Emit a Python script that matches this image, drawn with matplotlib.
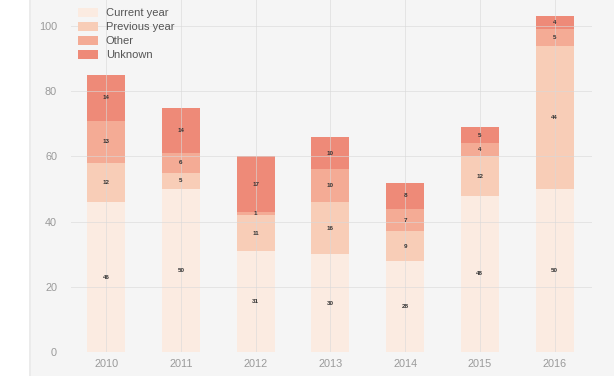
import matplotlib
matplotlib.use("Agg")
import matplotlib.pyplot as plt
from matplotlib.patches import Rectangle
import numpy as np

years = ["2010", "2011", "2012", "2013", "2014", "2015", "2016"]
current_year = [46, 50, 31, 30, 28, 48, 50]
previous_year = [12, 5, 11, 16, 9, 12, 44]
other = [13, 6, 1, 10, 7, 4, 5]
unknown = [14, 14, 17, 10, 8, 5, 4]
series_names = ["Current year", "Previous year", "Other", "Unknown"]
colors = ["#fbebe1", "#f8cdb7", "#f4ab95", "#ee8a78"]

plt.rcParams['font.family'] = ['Liberation Sans', 'DejaVu Sans']

W, H = 614, 376
fig = plt.figure(figsize=(W / 100, H / 100), dpi=100)
fig.patch.set_facecolor("#f5f5f5")
fig.patches.append(Rectangle((0, 0), 29 / W, 1, transform=fig.transFigure,
                             facecolor="white", edgecolor="none", zorder=0))
fig.patches.append(Rectangle((29 / W, 0), 2 / W, 1, transform=fig.transFigure,
                             facecolor="#ebebeb", edgecolor="none", zorder=0))

ax = fig.add_axes([71 / W, 24 / H, (592 - 71) / W, 352 / H])
ax.set_facecolor("#f5f5f5")

x = np.arange(len(years))
bottom = np.zeros(len(years))
for name, vals, c in zip(series_names, [current_year, previous_year, other, unknown], colors):
    vals = np.array(vals, dtype=float)
    ax.bar(x, vals, width=0.51, bottom=bottom, color=c, label=name, zorder=1)
    for xi, b, v in zip(x, bottom, vals):
        ax.text(xi, b + v / 2, f"{int(v)}", ha="center", va="center",
                fontsize=4.5, color="#333333", fontweight="bold", zorder=3)
    bottom += vals

ax.set_xlim(-0.47, 6.5)
ax.set_ylim(0, 108)
ax.set_yticks([0, 20, 40, 60, 80, 100])
ax.set_xticks(x)
ax.set_xticklabels(years)
ax.grid(True, color="#d9d9d9", linewidth=0.7, alpha=0.6, zorder=2)
ax.set_axisbelow(False)
for s in ax.spines.values():
    s.set_visible(False)
ax.tick_params(axis="both", length=0, labelsize=7.8, labelcolor="#9a9a9a")
ax.tick_params(axis="y", pad=10)
ax.tick_params(axis="x", pad=5)

leg = ax.legend(loc="upper left", bbox_to_anchor=(0.0, 0.995), frameon=False,
                fontsize=8, labelcolor="#555555", handlelength=1.8,
                handleheight=0.75, labelspacing=0.36, borderaxespad=0.2,
                handletextpad=0.75)

fig.savefig("out.png", dpi=100, facecolor=fig.get_facecolor())
